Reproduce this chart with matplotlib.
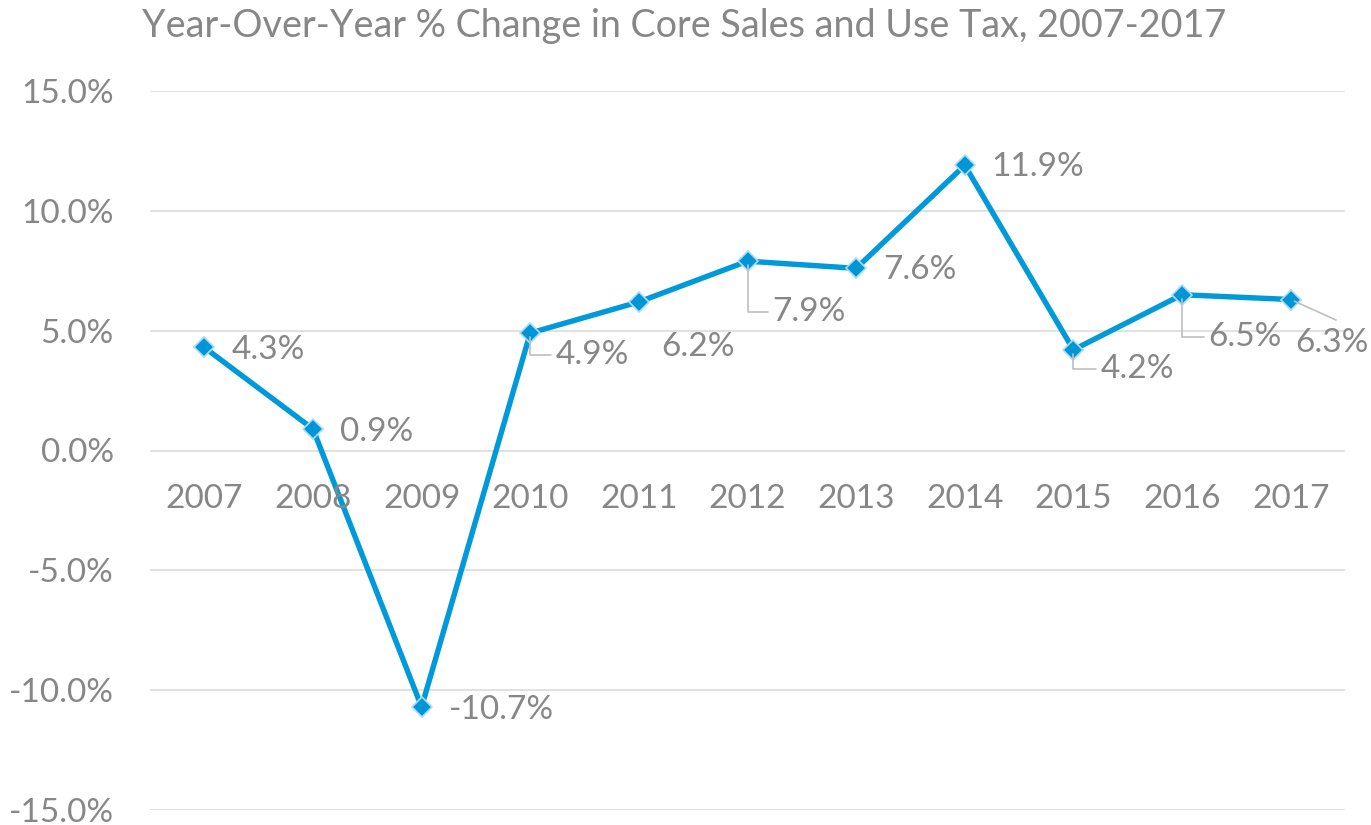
import numpy as np
import matplotlib.pyplot as plt

years = ['2007', '2008', '2009', '2010', '2011', '2012', '2013', '2014', '2015', '2016', '2017']
pct = [4.3, 0.9, -10.7, 4.9, 6.2, 7.9, 7.6, 11.9, 4.2, 6.5, 6.3]
yticks = [15.0, 10.0, 5.0, 0.0, -5.0, -10.0, -15.0]

# label offsets (pixels) and whether a leader line is drawn
lab_off = [(27, -3), (27, -3), (27, -3), (25, -22), (22, -45), (25, -51), (27, -2),
           (27, -2), (27, -19), (26, -42), (5, -43)]
leader = [False, False, False, True, False, True, False, False, True, True, True]

plt.rcParams['font.family'] = ['Lato', 'DejaVu Sans']
grey = '#878787'
blue = '#0099D9'

fig = plt.figure(figsize=(13.71, 8.25), dpi=100)
ax = fig.add_axes([150 / 1371, 15 / 825, 1195 / 1371, 719 / 825])

x = np.arange(len(years)) + 0.5
ax.set_xlim(0, len(years))
ax.set_ylim(-15, 15)

for t in yticks:
    ax.axhline(t, color='#D9D9D9', lw=1.1, zorder=0)

ax.plot(x, pct, color=blue, lw=3.9, marker='D', markersize=10,
        markerfacecolor='#0096D6', markeredgecolor='#A8DEF8', markeredgewidth=1.2, zorder=3)

for xi, v, off, ld in zip(x, pct, lab_off, leader):
    txt = f'{v:.1f}%'
    if ld and off[0] > 10:
        ax.annotate(txt, (xi, v), xytext=off, textcoords='offset pixels',
                    ha='left', va='center', fontsize=24, color=grey,
                    arrowprops=dict(arrowstyle='-', color='#BFBFBF', lw=1.2,
                                    connectionstyle='angle,angleA=0,angleB=90,rad=0',
                                    relpos=(0, 0.5), shrinkA=1, shrinkB=3))
    elif ld:
        ax.annotate(txt, (xi, v), xytext=off, textcoords='offset pixels',
                    ha='left', va='center', fontsize=24, color=grey,
                    arrowprops=dict(arrowstyle='-', color='#BFBFBF', lw=1.2,
                                    relpos=(0.55, 1.25), shrinkA=0, shrinkB=3))
    else:
        ax.annotate(txt, (xi, v), xytext=off, textcoords='offset pixels',
                    ha='left', va='center', fontsize=24, color=grey)

# category labels sit just under the zero line
for xi, yr in zip(x, years):
    ax.annotate(yr, (xi, 0), xytext=(0, -48), textcoords='offset pixels',
                ha='center', va='center', fontsize=24, color=grey)

ax.set_xticks([])
ax.set_yticks(yticks)
ax.set_yticklabels([f'{t:.1f}%' for t in yticks], fontsize=24, color=grey)
ax.tick_params(axis='y', length=0, pad=26)
for s in ax.spines.values():
    s.set_visible(False)

fig.text(142 / 1371, 1 - 26 / 825, 'Year-Over-Year % Change in Core Sales and Use Tax, 2007-2017',
         ha='left', va='center', fontsize=27.2, color=grey)

fig.savefig('out.png', dpi=100)
